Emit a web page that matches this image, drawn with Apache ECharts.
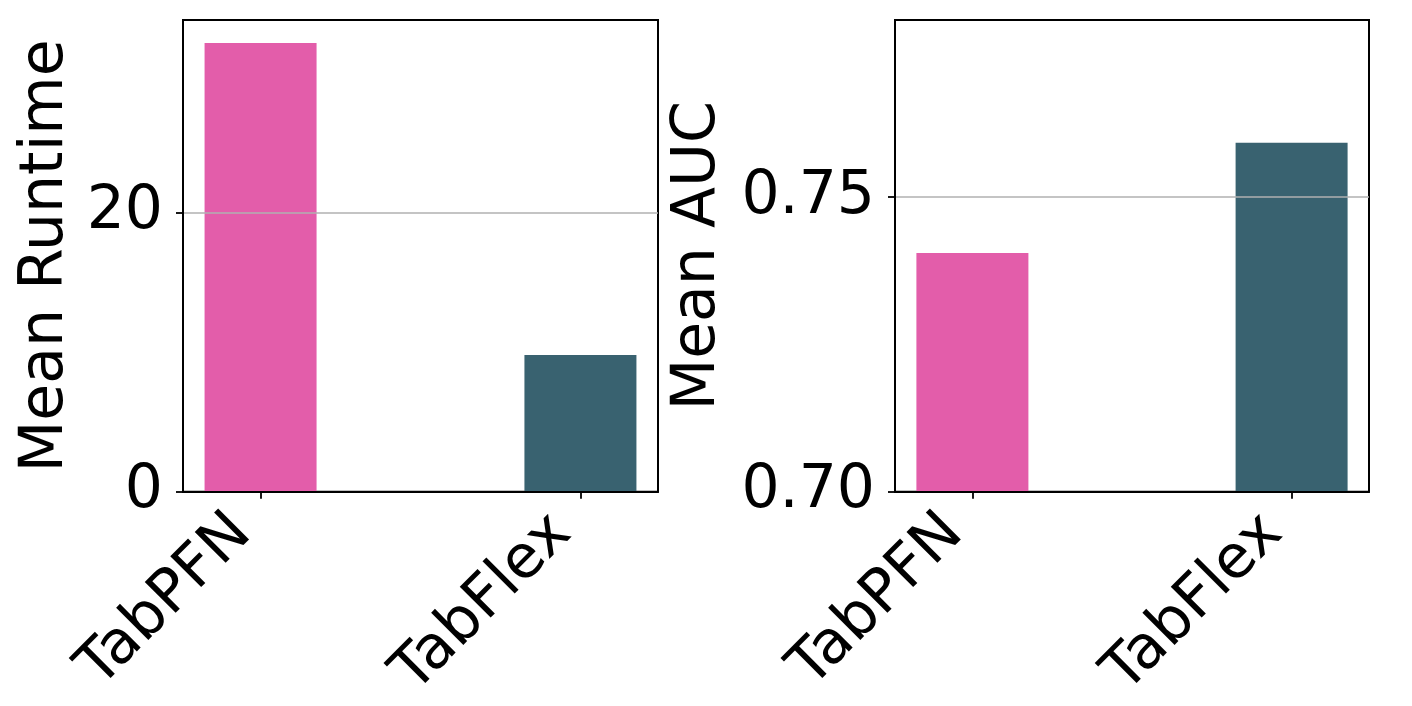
<!DOCTYPE html>
<html>
<head>
<meta charset="utf-8">
<script src="https://cdn.jsdelivr.net/npm/echarts@6/dist/echarts.min.js"></script>
<style>html,body{margin:0;padding:0;background:#fff}#c{width:1412px;height:706px}</style>
</head>
<body>
<div id="c"></div>
<script>
const categories = ['TabPFN', 'TabFlex'];
const runtime = [32.16, 9.80];
const auc = [0.7405, 0.7592];
const barColors = ['#E35DAA', '#396270'];
const runtimeTicks = [0, 20];
const aucTicks = [0.70, 0.75];

const FONT = 'DejaVu Sans';
const FS = 60;

function xAxisCfg(gi) {
  return {
    type: 'value', gridIndex: gi, min: -0.2425, max: 1.2425, z: 3,
    axisLine: {show: true, onZero: false, lineStyle: {color: '#000', width: 2}},
    axisTick: {show: true, customValues: [0, 1], length: 7, lineStyle: {color: '#000', width: 1.8}},
    axisLabel: {customValues: [0, 1], rotate: 45, margin: 14, padding: [0, 26, 0, 0], fontFamily: FONT, fontSize: FS, color: '#000',
      formatter: v => categories[Math.round(v)]},
    splitLine: {show: false}
  };
}
function yAxisCfg(gi, min, max, ticks, name, gap, fmt) {
  return {
    type: 'value', gridIndex: gi, min: min, max: max, z: 3,
    name: name, nameLocation: 'middle', nameGap: gap,
    nameTextStyle: {fontFamily: FONT, fontSize: FS, color: '#000'},
    axisLine: {show: true, onZero: false, lineStyle: {color: '#000', width: 2}},
    axisTick: {show: true, customValues: ticks, length: 7, lineStyle: {color: '#000', width: 1.8}},
    axisLabel: {customValues: ticks, margin: 20, fontFamily: FONT, fontSize: FS, color: '#000', formatter: fmt},
    splitLine: {show: true, showMinLine: false, lineStyle: {color: '#b0b0b0', width: 1.6}}
  };
}
function barData(vals) {
  return vals.map((v, i) => ({value: [i, v], itemStyle: {color: barColors[i]}}));
}

const chart = echarts.init(document.getElementById('c'), null, {renderer: 'canvas'});
chart.setOption({
  animation: false,
  backgroundColor: '#fff',
  grid: [
    {left: 183, top: 20, width: 475, height: 473, show: true, borderColor: '#000', borderWidth: 2, backgroundColor: 'transparent'},
    {left: 895, top: 20, width: 474, height: 473, show: true, borderColor: '#000', borderWidth: 2, backgroundColor: 'transparent'}
  ],
  xAxis: [xAxisCfg(0), xAxisCfg(1)],
  yAxis: [
    yAxisCfg(0, 0, 33.8, runtimeTicks, 'Mean Runtime', 107, v => String(v)),
    yAxisCfg(1, 0.70, 0.78, aucTicks, 'Mean AUC', 167, v => v.toFixed(2))
  ],
  series: [
    {type: 'bar', xAxisIndex: 0, yAxisIndex: 0, barWidth: 112, data: barData(runtime)},
    {type: 'bar', xAxisIndex: 1, yAxisIndex: 1, barWidth: 112, data: barData(auc)}
  ]
});
</script>
</body>
</html>
